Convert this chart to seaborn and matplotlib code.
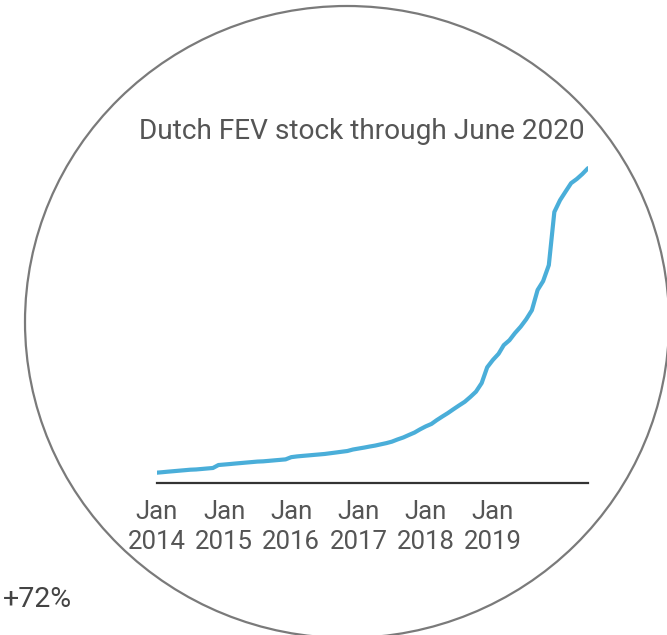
import matplotlib
matplotlib.use("Agg")
import matplotlib.pyplot as plt
from matplotlib.patches import Ellipse
import numpy as np
import pandas as pd
import seaborn as sns

# Monthly stock of full electric vehicles in the Netherlands (thousands)
months = pd.date_range("2014-01-01", "2020-06-01", freq="MS")
stock_2014 = [4.2, 4.4, 4.6, 4.8, 5.0, 5.2, 5.4, 5.5, 5.7, 5.9, 6.1, 7.3]
stock_2015 = [7.5, 7.7, 7.9, 8.1, 8.3, 8.5, 8.7, 8.8, 9.0, 9.2, 9.4, 9.6]
stock_2016 = [10.5, 10.8, 11.0, 11.2, 11.4, 11.6, 11.8, 12.1, 12.4, 12.7, 13.0, 13.6]
stock_2017 = [14.0, 14.4, 14.8, 15.2, 15.7, 16.2, 16.8, 17.7, 18.5, 19.5, 20.5, 21.8]
stock_2018 = [23.0, 24.0, 25.5, 27.0, 28.4, 30.0, 31.5, 33.0, 35.0, 37.1, 40.6, 47.0]
stock_2019 = [50.0, 52.5, 56.0, 58.0, 60.9, 63.5, 66.5, 70.2, 78.4, 82.0, 88.5, 110.1]
stock_2020 = [114.9, 118.5, 121.8, 123.5, 125.5, 127.9]

stock = (stock_2014 + stock_2015 + stock_2016 + stock_2017
         + stock_2018 + stock_2019 + stock_2020)

tick_years = [2014, 2015, 2016, 2017, 2018, 2019]
tick_labels = [f"Jan\n{y}" for y in tick_years]
title_text = "Dutch FEV stock through June 2020"
change_text = "+72%"

df = pd.DataFrame({"month": months, "stock": stock})

sns.set_theme(style="white")
plt.rcParams["font.family"] = ["Roboto", "DejaVu Sans"]

W, H = 667, 635
fig = plt.figure(figsize=(W / 100, H / 100), dpi=100)
fig.patch.set_facecolor("white")

# Ring framing the chart
ring = Ellipse((347 / W, 1 - 322 / H), 644 / W, 632 / H,
               transform=fig.transFigure, fill=False,
               edgecolor="#7a7a7a", linewidth=1.6)
fig.add_artist(ring)

left, right = 157 / W, 588 / W
bottom = (H - 483) / H
top = (H - 163) / H
ax = fig.add_axes([left, bottom, right - left, top - bottom])
ax.set_facecolor("none")

sns.lineplot(data=df, x="month", y="stock", ax=ax,
             color="#4aaed9", linewidth=3.0)

ax.set_xlim(months[0], months[-1])
ax.set_ylim(0, 130)
ax.set_xlabel("")
ax.set_ylabel("")
ax.set_yticks([])
ax.set_xticks([pd.Timestamp(f"{y}-01-01") for y in tick_years])
ax.set_xticklabels(tick_labels, fontsize=18.5, color="#555555",
                   linespacing=1.32)
ax.tick_params(axis="x", length=0, pad=12)
for side in ["top", "right", "left"]:
    ax.spines[side].set_visible(False)
ax.spines["bottom"].set_color("#333333")
ax.spines["bottom"].set_linewidth(1.6)

fig.text(585 / W, 1 - 139 / H, title_text, ha="right", va="baseline",
         fontsize=20.2, color="#555555")
fig.text(3 / W, 1 - 607 / H, change_text, ha="left", va="baseline",
         fontsize=20.5, color="#444444")

fig.savefig("out.png", dpi=100, facecolor="white")
